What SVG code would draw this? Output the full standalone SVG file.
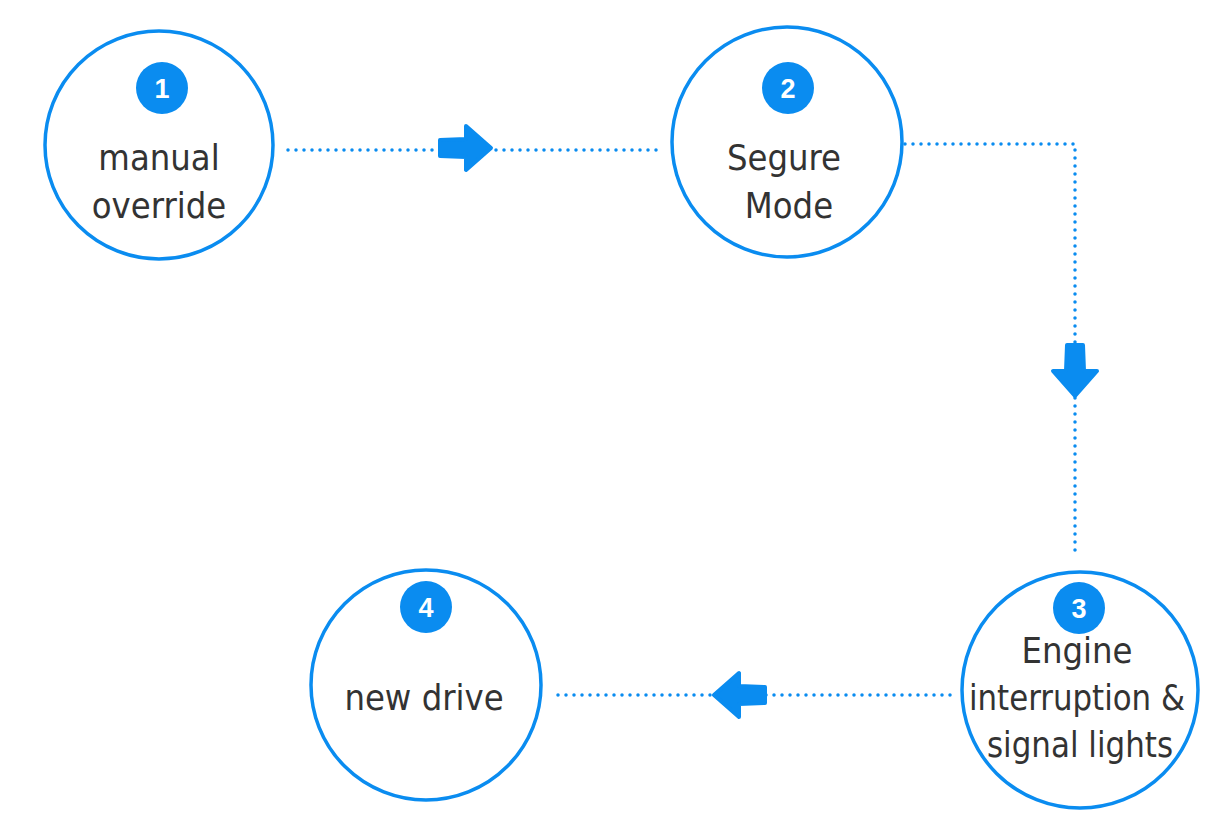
<svg xmlns="http://www.w3.org/2000/svg" width="1224" height="828" viewBox="0 0 1224 828">
<style>
.ring{fill:#fff;stroke:#0a8cf0;stroke-width:3.5}
.badge{fill:#0a8cf0}
.num{font-family:"Liberation Sans",Arial,sans-serif;font-weight:bold;font-size:27px;fill:#fff;text-anchor:middle}
.lbl{font-family:"Liberation Sans Narrow","DejaVu Sans Condensed","Liberation Sans",sans-serif;font-size:36px;fill:#333;text-anchor:middle}
.dot{fill:none;stroke:#0a8cf0;stroke-width:3.5;stroke-linecap:round;stroke-dasharray:0 8}
.arr{fill:#0a8cf0;stroke:#0a8cf0;stroke-width:4;stroke-linejoin:round}
</style>
<rect width="1224" height="828" fill="#fff"/>
<g id="connectors">
<path class="dot" d="M288,150 H660"/>
<path class="dot" d="M905,144 H1075 V555"/>
<path class="dot" d="M950,695 H550"/>
<path class="arr" d="M-53,-8 L-27,-9 L-27,-22 L-2,0 L-27,22 L-27,9 L-53,8 Z" transform="translate(493,148)"/>
<path class="arr" d="M-53,-8 L-27,-9 L-27,-22 L-2,0 L-27,22 L-27,9 L-53,8 Z" transform="translate(1075,398) rotate(90)"/>
<path class="arr" d="M-53,-8 L-27,-9 L-27,-22 L-2,0 L-27,22 L-27,9 L-53,8 Z" transform="translate(712,695) rotate(180)"/>
</g>
<g id="node1">
<circle class="ring" cx="159" cy="145" r="114"/>
<circle class="badge" cx="162" cy="88" r="26"/>
<text class="num" x="162" y="98">1</text>
<text class="lbl" x="159" y="170">manual</text>
<text class="lbl" x="159" y="218">override</text>
</g>
<g id="node2">
<circle class="ring" cx="787" cy="142" r="115"/>
<circle class="badge" cx="788" cy="88" r="26"/>
<text class="num" x="788" y="98">2</text>
<text class="lbl" x="784" y="170">Segure</text>
<text class="lbl" x="789" y="218">Mode</text>
</g>
<g id="node3">
<circle class="ring" cx="1080" cy="690" r="118"/>
<circle class="badge" cx="1079" cy="608" r="26"/>
<text class="num" x="1079" y="618">3</text>
<text class="lbl" x="1077" y="663">Engine</text>
<text class="lbl" x="1077" y="710" textLength="216" lengthAdjust="spacingAndGlyphs">interruption &amp;</text>
<text class="lbl" x="1080" y="757" textLength="186" lengthAdjust="spacingAndGlyphs">signal lights</text>
</g>
<g id="node4">
<circle class="ring" cx="426" cy="685" r="115"/>
<circle class="badge" cx="426" cy="607" r="26"/>
<text class="num" x="426" y="617">4</text>
<text class="lbl" x="424" y="710">new drive</text>
</g>
</svg>
